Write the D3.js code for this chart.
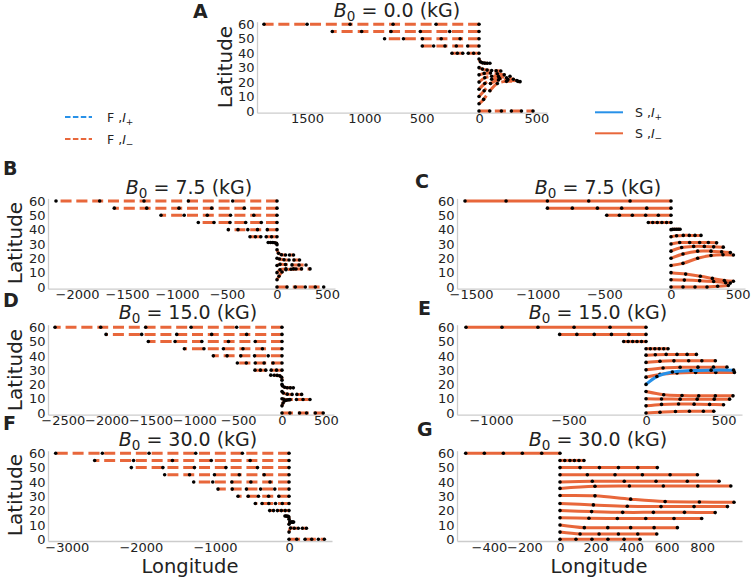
<!DOCTYPE html>
<html>
<head>
<meta charset="utf-8">
<script src="https://cdn.jsdelivr.net/npm/d3@7"></script>
<style>
  body { margin: 0; background: #fff; }
  svg { display: block; }
  text { font-family: "DejaVu Sans", sans-serif; fill: #222; }
</style>
</head>
<body>
<div id="chart"></div>
<script>
// ---- data: marker positions [longitude, latitude] of each trajectory ----
// A: B0 = 0.0 kG, F model
const trajA = [
  [[0,60],[-375,60],[-750,60],[-1125,60],[-1500,60],[-1876,60]],
  [[0,55],[-256,55],[-512,55],[-768,55],[-1024,55],[-1280,55]],
  [[0,50],[-165,50],[-330,50],[-494,50],[-659,50],[-824,50]],
  [[0,45],[-99,45],[-198,45],[-297,45],[-396,45],[-495,45]],
  [[0,40],[-47,40],[-94,40],[-142,40],[-189,40],[-236,40]],
  [[0,36],[12,34],[30,33.3],[50,33.1],[72,33],[95,33]],
  [[0,30],[30,29],[70,28.3],[110,28],[150,27.8],[190,27.7]],
  [[0,25],[45,26],[100,26.2],[160,25.8],[220,25],[270,24]],
  [[0,20],[50,23],[110,24],[170,23.8],[240,23],[300,22]],
  [[0,15],[50,19],[110,22],[180,22.5],[250,22],[330,21]],
  [[0,10],[45,14],[100,19],[170,21.5],[250,21.5],[340,20.5]],
  [[0,5],[40,8],[95,14],[160,19],[240,20.5],[358,20.3]],
  [[0,0],[93,0],[195,0],[282,0],[370,0],[471,0]]
];
// B: B0 = 7.5 kG, F model
const trajB = [
  [[0,60],[-443,60],[-886,60],[-1330,60],[-1773,60],[-2210,60]],
  [[0,55],[-327,55],[-653,55],[-980,55],[-1303,55],[-1627,55]],
  [[0,50],[-232,50],[-465,50],[-697,50],[-928,50],[-1160,50]],
  [[0,45],[-157,45],[-313,45],[-470,45],[-630,45],[-787,45]],
  [[0,40],[-97,40],[-195,40],[-292,40],[-390,40],[-487,40]],
  [[0,35],[-54,35],[-108,35],[-162,35],[-216,35],[-270,35]],
  [[0,29.5],[-5,30.5],[-22,30.9],[-42,31],[-64,31],[-88,31]],
  [[0,26],[15,23.5],[45,22.5],[85,22.3],[125,22.3],[165,22.3]],
  [[0,20],[25,19.5],[70,19],[120,18.8],[170,18.8],[225,18.8]],
  [[0,15],[30,15.8],[85,15.6],[150,15.4],[220,15.3],[290,15.3]],
  [[0,10],[30,12],[90,12.6],[165,12.6],[245,12.6],[330,12.6]],
  [[0,5],[20,7.5],[50,10.5],[90,12],[140,12.4],[190,12.5]],
  [[0,0],[100,0],[183,0],[283,0],[383,0],[467,0]]
];
// C: B0 = 7.5 kG, S model
const trajC = [
  [[0,60],[-307,60],[-617,60],[-927,60],[-1237,60],[-1545,60]],
  [[0,55],[-182,55],[-370,55],[-552,55],[-740,55],[-927,55]],
  [[0,50],[-95,50],[-190,50],[-290,50],[-387,50],[-482,50]],
  [[0,45],[-33,45],[-68,45],[-103,45],[-137,45],[-170,45]],
  [[0,40],[12,40.2],[26,40.3],[40,40.3],[54,40.3],[68,40.3]],
  [[0,35],[42,35.7],[92,36],[137,36],[180,36],[225,36]],
  [[0,30],[65,31],[140,31],[215,31],[280,31],[342,30.8]],
  [[0,25],[80,27.5],[170,28.3],[250,28.3],[320,28],[392,27.8]],
  [[0,20],[90,23],[200,25],[300,25],[380,24.5],[445,24]],
  [[0,15],[90,16.5],[200,20],[300,22],[390,22.5],[468,22.3]],
  [[0,10],[110,9],[220,7.5],[310,6],[400,4.5],[468,4]],
  [[0,5],[100,4.8],[215,4.4],[320,3.8],[410,3],[445,2.7]],
  [[0,0],[90,0],[180,0],[270,0],[350,0.5],[430,1]]
];
// D: B0 = 15.0 kG, F model
const trajD = [
  [[0,60],[-517,60],[-1037,60],[-1554,60],[-2067,60],[-2588,60]],
  [[0,55],[-403,55],[-802,55],[-1200,55],[-1600,55],[-2006,55]],
  [[0,50],[-305,50],[-610,50],[-914,50],[-1219,50],[-1524,50]],
  [[0,45],[-223,45],[-445,45],[-668,45],[-890,45],[-1113,45]],
  [[0,40],[-157,40],[-313,40],[-470,40],[-626,40],[-783,40]],
  [[0,35],[-102,35],[-204,35],[-305,35],[-407,35],[-509,35]],
  [[0,30],[-62,30],[-123,30],[-185,30],[-246,30],[-308,30]],
  [[0,23],[-4,25],[-25,26],[-55,26.3],[-90,26.4],[-128,26.5]],
  [[0,20],[5,19],[30,18],[60,17.7],[95,17.6],[129,17.6]],
  [[0,15],[15,14],[60,13.2],[115,13],[170,13],[224,13]],
  [[0,10],[20,9.6],[90,9.4],[165,9.4],[240,9.4],[319,9.4]],
  [[0,5],[12,7],[30,8.5],[50,9],[70,9.2],[90,9.3]],
  [[0,0],[90,0],[200,0],[280,0],[380,0],[470,0]]
];
// E: B0 = 15.0 kG, S model
const trajE = [
  [[0,60],[-232,60],[-464,60],[-697,60],[-929,60],[-1161,60]],
  [[0,55],[-111,55],[-223,55],[-334,55],[-446,55],[-557,55]],
  [[0,50],[-29,50],[-58,50],[-86,50],[-115,50],[-144,50]],
  [[0,45],[28,45],[57,45],[85,45],[114,45],[142,45]],
  [[0,40.5],[60,40.8],[130,41],[200,41],[265,41],[325,41]],
  [[0,35.4],[90,36.2],[180,36.5],[275,36.6],[360,36.6],[447,36.6]],
  [[0,30.2],[110,31.5],[220,32],[335,32.1],[435,32.1],[522,32.1]],
  [[0,25.1],[90,27],[200,28],[320,28.3],[450,28.4],[570,28.4]],
  [[0,15],[114,12.8],[232,12.2],[340,12],[447,12],[561,12]],
  [[0,10],[100,9.8],[220,9.7],[330,9.7],[440,9.7],[539,9.7]],
  [[0,5],[100,6],[210,6.3],[310,6.2],[410,6],[500,5.8]],
  [[0,0],[90,0.5],[190,1],[280,1.2],[370,1.2],[437,1.2]]
];
const trajEPlus = [
  [[0,20],[70,25.5],[170,28.7],[290,29.7],[420,30],[565,30]]
];
// F: B0 = 30.0 kG, F model
const trajF = [
  [[0,60],[-630,60],[-1260,60],[-1890,60],[-2520,60],[-3150,60]],
  [[0,55],[-525,55],[-1050,55],[-1574,55],[-2099,55],[-2624,55]],
  [[0,50],[-426,50],[-852,50],[-1277,50],[-1703,50],[-2129,50]],
  [[0,45],[-336,45],[-672,45],[-1007,45],[-1343,45],[-1679,45]],
  [[0,40],[-257,40],[-515,40],[-772,40],[-1030,40],[-1287,40]],
  [[0,35],[-192,35],[-384,35],[-575,35],[-767,35],[-959,35]],
  [[0,30],[-138,30],[-276,30],[-413,30],[-551,30],[-689,30]],
  [[0,25],[-91,25],[-182,25],[-273,25],[-364,25],[-455,25]],
  [[0,20],[-52,20],[-104,20],[-157,20],[-209,20],[-261,20]],
  [[0,14],[-2,15.5],[-12,16],[-25,16.1],[-40,16.2],[-55,16.2]],
  [[0,10.5],[10,12],[25,12],[38,12],[50,12],[62,12]],
  [[0,5],[20,7.8],[70,7.7],[125,7.7],[180,7.7],[235,7.7]],
  [[0,0],[104,0],[216,0],[306,0],[396,0],[477,0]]
];
// G: B0 = 30.0 kG, S model
const trajG = [
  [[0,60],[-103,60],[-212,60],[-319,60],[-426,60],[-531,60]],
  [[0,55],[27,55],[56,55],[81,55],[107,55],[135,55]],
  [[0,50],[113,50],[222,50],[329,50],[438,50],[548,50]],
  [[0,45],[154,45],[310,45],[464,45],[620,45],[774,45]],
  [[0,40],[182,40.5],[362,40.5],[541,40.5],[717,40.5],[896,40.5]],
  [[0,35.5],[197,37],[391,37.2],[582,37.2],[776,37.2],[962,37.2]],
  [[0,30.5],[197,30.3],[398,28],[592,26.3],[785,26],[980,25.8]],
  [[0,25],[188,24],[379,23],[569,22.8],[755,22.8],[943,22.8]],
  [[0,20],[178,19.3],[353,18.8],[526,18.8],[701,18.8],[874,18.6]],
  [[0,15],[163,14.7],[323,14.5],[483,14.5],[642,14.5],[798,14.5]],
  [[0,10],[137,8.1],[269,8.1],[398,8.1],[530,8.1],[661,8.1]],
  [[0,5],[113,3.7],[220,3.7],[329,3.7],[438,3.7],[545,3.7]],
  [[0,0],[90,0],[180,0],[270,0],[361,0],[451,0]]
];

const latTicks = [0, 10, 20, 30, 40, 50, 60];
const lonTicksA = [-1500, -1000, -500, 0, 500];
const lonTicksB = [-2000, -1500, -1000, -500, 0, 500];
const lonTicksC = [-1500, -1000, -500, 0, 500];
const lonTicksD = [-2500, -2000, -1500, -1000, -500, 0, 500];
const lonTicksE = [-1000, -500, 0, 500];
const lonTicksF = [-3000, -2000, -1000, 0];
const lonTicksG = [-400, -200, 0, 200, 400, 600, 800];

const panelLetters = ["A", "B", "C", "D", "E", "F", "G"];
const fieldValues = ["0.0", "7.5", "7.5", "15.0", "15.0", "30.0", "30.0"];
const legendF = ["+", "\u2212"];
const legendS = ["+", "\u2212"];

const orange = "#e8673b", blue = "#2891e8";

// ---- layout (pixel boxes) ----
const panels = [
  {traj: trajA, ticks: lonTicksA, dashed: true,  xr: [257, 547], yr: [112.7, 21.7], lon: [-1937, 593], title: [397, 17.3], letter: [193, 18.3], ylab: [225, 67], abs: true},
  {traj: trajB, ticks: lonTicksB, dashed: true,  xr: [48, 335],  yr: [288.7, 198.4], lon: [-2290, 580], title: [189, 194.3], letter: [3, 175], ylab: [15, 243]},
  {traj: trajC, ticks: lonTicksC, dashed: false, xr: [457, 745], yr: [288.7, 198.4], lon: [-1605, 555], title: [598, 194.3], letter: [415, 188]},
  {traj: trajD, ticks: lonTicksD, dashed: true,  xr: [48, 334],  yr: [414.7, 324.7], lon: [-2668, 593], title: [188, 319], letter: [3, 306.7], ylab: [15, 370]},
  {traj: trajE, plus: trajEPlus, ticks: lonTicksE, dashed: false, xr: [457, 742], yr: [414.7, 324.7], lon: [-1219, 619], title: [598, 319], letter: [418, 315]},
  {traj: trajF, ticks: lonTicksF, dashed: true,  xr: [48, 332],  yr: [541, 450.7], lon: [-3254, 580], title: [188, 445.7], letter: [3, 430], ylab: [15, 495], xlab: [190, 573]},
  {traj: trajG, ticks: lonTicksG, dashed: false, xr: [457, 742], yr: [541, 450.7], lon: [-580, 1025], title: [598, 445.7], letter: [417, 436], xlab: [599, 573]}
];

const svg = d3.select("#chart").append("svg")
  .attr("width", 754)
  .attr("height", 578)
  .style("background", "#fff");

panels.forEach((p, i) => renderPanel(p, i));
renderLegends();

function renderPanel(p, i) {
  const x = d3.scaleLinear().domain(p.lon).range(p.xr);
  const y = d3.scaleLinear().domain([-1.2, 61.8]).range(p.yr);
  const g = svg.append("g");

  const fmt = p.abs ? (d => String(Math.abs(d))) : d3.format("d");
  const xAxis = g.append("g")
    .attr("transform", `translate(0,${p.yr[0]})`)
    .call(d3.axisBottom(x).tickValues(p.ticks).tickFormat(fmt).tickSize(0).tickSizeOuter(0).tickPadding(1.5));
  const yAxis = g.append("g")
    .attr("transform", `translate(${p.xr[0]},0)`)
    .call(d3.axisLeft(y).tickValues(latTicks).tickFormat(d3.format("d")).tickSize(0).tickSizeOuter(0).tickPadding(2.5));
  [xAxis, yAxis].forEach(a => {
    a.select(".domain").attr("stroke", "#cccccc").attr("stroke-width", 1.3);
    a.selectAll("text")
      .attr("font-size", 13)
      .attr("font-family", "DejaVu Sans, sans-serif")
      .attr("fill", "#222");
  });

  const line = d3.line()
    .x(d => x(d[0]))
    .y(d => y(d[1]))
    .curve(d3.curveCatmullRom.alpha(0.5));

  const drawSet = (set, color) => {
    g.append("g")
      .selectAll("path")
      .data(set)
      .join("path")
        .attr("d", line)
        .attr("fill", "none")
        .attr("stroke", color)
        .attr("stroke-width", 3)
        .attr("stroke-dasharray", p.dashed ? "11,4.8" : null);
    g.append("g")
      .selectAll("circle")
      .data(set.flat())
      .join("circle")
        .attr("cx", d => x(d[0]))
        .attr("cy", d => y(d[1]))
        .attr("r", 1.8)
        .attr("fill", "#000");
  };
  drawSet(p.traj, orange);
  if (p.plus) drawSet(p.plus, blue);

  // title
  const t = svg.append("text")
    .attr("x", p.title[0])
    .attr("y", p.title[1])
    .attr("text-anchor", "middle")
    .attr("font-size", 19);
  t.append("tspan").attr("font-style", "italic").text("B");
  t.append("tspan").attr("font-size", 13.5).attr("dy", 4).text("0");
  t.append("tspan").attr("dy", -4).text(" = " + fieldValues[i] + " (kG)");

  // panel letter
  svg.append("text")
    .attr("x", p.letter[0])
    .attr("y", p.letter[1])
    .attr("font-family", "Liberation Sans, Arial, sans-serif")
    .attr("font-weight", "bold")
    .attr("font-size", 19)
    .attr("fill", "#000")
    .text(panelLetters[i]);

  if (p.ylab) {
    svg.append("text")
      .attr("transform", `translate(${p.ylab[0]},${p.ylab[1]}) rotate(-90)`)
      .attr("text-anchor", "middle")
      .attr("dy", "0.35em")
      .attr("font-size", 20)
      .text("Latitude");
  }
  if (p.xlab) {
    svg.append("text")
      .attr("x", p.xlab[0])
      .attr("y", p.xlab[1])
      .attr("text-anchor", "middle")
      .attr("font-size", 19.5)
      .text("Longitude");
  }
}

function renderLegends() {
  const colors = [blue, orange];
  // F legend (dashed)
  legendF.forEach((s, k) => {
    const yy = 117 + k * 22;
    svg.append("line")
      .attr("x1", 65).attr("x2", 92).attr("y1", yy).attr("y2", yy)
      .attr("stroke", colors[k]).attr("stroke-width", 2)
      .attr("stroke-dasharray", "5.5,2.4");
    legendText(107, yy + 4.5, "F", s);
  });
  // S legend (solid)
  legendS.forEach((s, k) => {
    const yy = 112.3 + k * 21;
    svg.append("line")
      .attr("x1", 595).attr("x2", 623).attr("y1", yy).attr("y2", yy)
      .attr("stroke", colors[k]).attr("stroke-width", 2);
    legendText(635, yy + 4.5, "S", s);
  });
}

function legendText(x, y, model, sign) {
  const t = svg.append("text")
    .attr("x", x).attr("y", y)
    .attr("font-size", 12.5);
  t.append("tspan").text(model + " ,");
  t.append("tspan").attr("font-style", "italic").text("I");
  t.append("tspan").attr("font-size", 9).attr("dy", 3).text(sign);
}
</script>
</body>
</html>
